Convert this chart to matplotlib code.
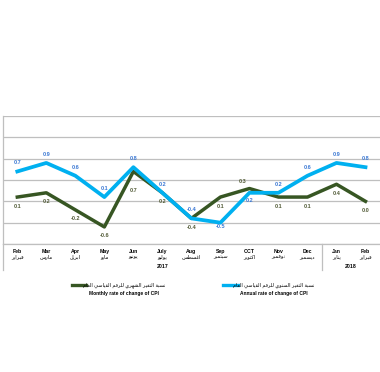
import numpy as np
import matplotlib
matplotlib.use('Agg')
import matplotlib.pyplot as plt
import matplotlib.transforms as mtransforms
from matplotlib.lines import Line2D

plt.rcParams['font.family'] = ['Liberation Sans', 'DejaVu Sans']

# data
months_en = ['Feb', 'Mar', 'Apr', 'May', 'Jun', 'July', 'Aug', 'Sep', 'OCT', 'Nov', 'Dec', 'Jan', 'Feb']
months_ar = ['فبراير', 'مارس', 'ابريل', 'مايو', 'يونيو', 'يوليو', 'اغسطس', 'سبتمبر', 'اكتوبر',
             'نوفمبر', 'ديسمبر', 'يناير', 'فبراير']
monthly = [0.1, 0.2, -0.2, -0.6, 0.7, 0.2, -0.4, 0.1, 0.3, 0.1, 0.1, 0.4, 0.0]
annual = [0.7, 0.9, 0.6, 0.1, 0.8, 0.2, -0.4, -0.5, 0.2, 0.2, 0.6, 0.9, 0.8]
years = ['2017', '2018']
year_first = [0, 11]
year_last = [10, 12]
legend_ar = ['نسبة التغير الشهري للرقم القياسي العام', 'نسبة التغير السنوي للرقم القياسي العام']
legend_en = ['Monthly rate of change of CPI', 'Annual rate of change of CPI']

GREEN = '#375623'
BLUE = '#00b0f0'
GRID = '#bfbfbf'

# tiny arabic shaper: matplotlib has no RTL shaping
FORMS = {
    0x0627: (0xFE8D, 0xFE8E, None, None),
    0x0623: (0xFE83, 0xFE84, None, None),
    0x0628: (0xFE8F, 0xFE90, 0xFE91, 0xFE92),
    0x0629: (0xFE93, 0xFE94, None, None),
    0x062A: (0xFE95, 0xFE96, 0xFE97, 0xFE98),
    0x062F: (0xFEA9, 0xFEAA, None, None),
    0x0631: (0xFEAD, 0xFEAE, None, None),
    0x0633: (0xFEB1, 0xFEB2, 0xFEB3, 0xFEB4),
    0x0634: (0xFEB5, 0xFEB6, 0xFEB7, 0xFEB8),
    0x0637: (0xFEC1, 0xFEC2, 0xFEC3, 0xFEC4),
    0x0639: (0xFEC9, 0xFECA, 0xFECB, 0xFECC),
    0x063A: (0xFECD, 0xFECE, 0xFECF, 0xFED0),
    0x0641: (0xFED1, 0xFED2, 0xFED3, 0xFED4),
    0x0642: (0xFED5, 0xFED6, 0xFED7, 0xFED8),
    0x0643: (0xFED9, 0xFEDA, 0xFEDB, 0xFEDC),
    0x0644: (0xFEDD, 0xFEDE, 0xFEDF, 0xFEE0),
    0x0645: (0xFEE1, 0xFEE2, 0xFEE3, 0xFEE4),
    0x0646: (0xFEE5, 0xFEE6, 0xFEE7, 0xFEE8),
    0x0647: (0xFEE9, 0xFEEA, 0xFEEB, 0xFEEC),
    0x0648: (0xFEED, 0xFEEE, None, None),
    0x064A: (0xFEF1, 0xFEF2, 0xFEF3, 0xFEF4),
}


def shape(text):
    out = []
    for i, ch in enumerate(text):
        f = FORMS.get(ord(ch))
        if f is None:
            out.append(ch)
            continue
        prev = FORMS.get(ord(text[i - 1])) if i > 0 else None
        nxt = FORMS.get(ord(text[i + 1])) if i + 1 < len(text) else None
        jp = prev is not None and prev[2] is not None
        jn = nxt is not None and f[2] is not None
        if jp and jn:
            c = f[3]
        elif jp:
            c = f[1]
        elif jn:
            c = f[2]
        else:
            c = f[0]
        out.append(chr(c))
    return ''.join(reversed(out))


W, H = 380, 372
fig = plt.figure(figsize=(W / 100, H / 100), dpi=100)
ax = fig.add_axes([2.8 / W, 128 / H, 377.2 / W, 128 / H])

x = np.arange(len(months_en))
ax.plot(x, monthly, color=GREEN, lw=2.5, zorder=3)
ax.plot(x, annual, color=BLUE, lw=2.7, zorder=4)

ax.set_xlim(-0.5, 12.5)
ax.set_ylim(-1, 2)
ax.set_yticks(np.arange(-1, 2.01, 0.5))
ax.set_yticklabels([])
ax.set_xticks([])
ax.tick_params(length=0)
ax.yaxis.grid(True, color=GRID, lw=0.9)
ax.set_axisbelow(True)
for s in ['top', 'right']:
    ax.spines[s].set_visible(False)
for s in ['left', 'bottom']:
    ax.spines[s].set_color(GRID)
    ax.spines[s].set_linewidth(0.9)

# data labels (pixel offsets)
blue_dy = [8.5] * len(annual)
blue_dy[7] = -3.5
blue_dy[8] = -8
green_dy = [-9] * len(monthly)
green_dy[4] = -19
green_dy[8] = 6.6
green_dx = [0] * len(monthly)
green_dx[8] = -7

for i, v in enumerate(annual):
    ax.annotate(f'{v:.1f}', (i, v), xytext=(0, blue_dy[i]), textcoords='offset pixels',
                ha='center', va='center', fontsize=4, fontweight='bold', color='#3a78d4', zorder=5)
for i, v in enumerate(monthly):
    ax.annotate(f'{v:.1f}', (i, v), xytext=(green_dx[i], green_dy[i]), textcoords='offset pixels',
                ha='center', va='center', fontsize=4, fontweight='bold', color='#535c38', zorder=5)

# category axis
for i in range(len(months_en)):
    ax.annotate(months_en[i], (i, 0), xycoords=('data', 'axes fraction'), xytext=(0, -7.7),
                textcoords='offset pixels', ha='center', va='center', fontsize=3.7,
                fontweight='bold', annotation_clip=False)
    ax.annotate(shape(months_ar[i]), (i, 0), xycoords=('data', 'axes fraction'), xytext=(0, -12.7),
                textcoords='offset pixels', ha='center', va='center', fontsize=3.7,
                family=['DejaVu Sans'], annotation_clip=False)
for yr, a, b in zip(years, year_first, year_last):
    ax.annotate(yr, ((a + b) / 2, 0), xycoords=('data', 'axes fraction'), xytext=(0, -23),
                textcoords='offset pixels', ha='center', va='center', fontsize=3.7,
                fontweight='bold', annotation_clip=False)

trans = mtransforms.blended_transform_factory(ax.transData, ax.transAxes)
for sep in [-0.5, 10.5]:
    ax.plot([sep, sep], [0, -26 / 128], transform=trans, color=GRID, lw=0.9, clip_on=False)

# legend
leg_x0 = [71.7, 223.3]
leg_cx = [124, 274]
for col, x0, cx, ar, en in zip([GREEN, BLUE], leg_x0, leg_cx, legend_ar, legend_en):
    fig.add_artist(Line2D([x0 / W, (x0 + 14.5) / W], [1 - 285.3 / H] * 2, color=col, lw=2.4,
                          transform=fig.transFigure))
    fig.text(cx / W, 1 - 285.3 / H, shape(ar), ha='center', va='center', fontsize=3.5,
             family=['DejaVu Sans'])
    fig.text(cx / W, 1 - 293.3 / H, en, ha='center', va='center', fontsize=3.5, fontweight='bold')

fig.savefig('out.png', dpi=100)
